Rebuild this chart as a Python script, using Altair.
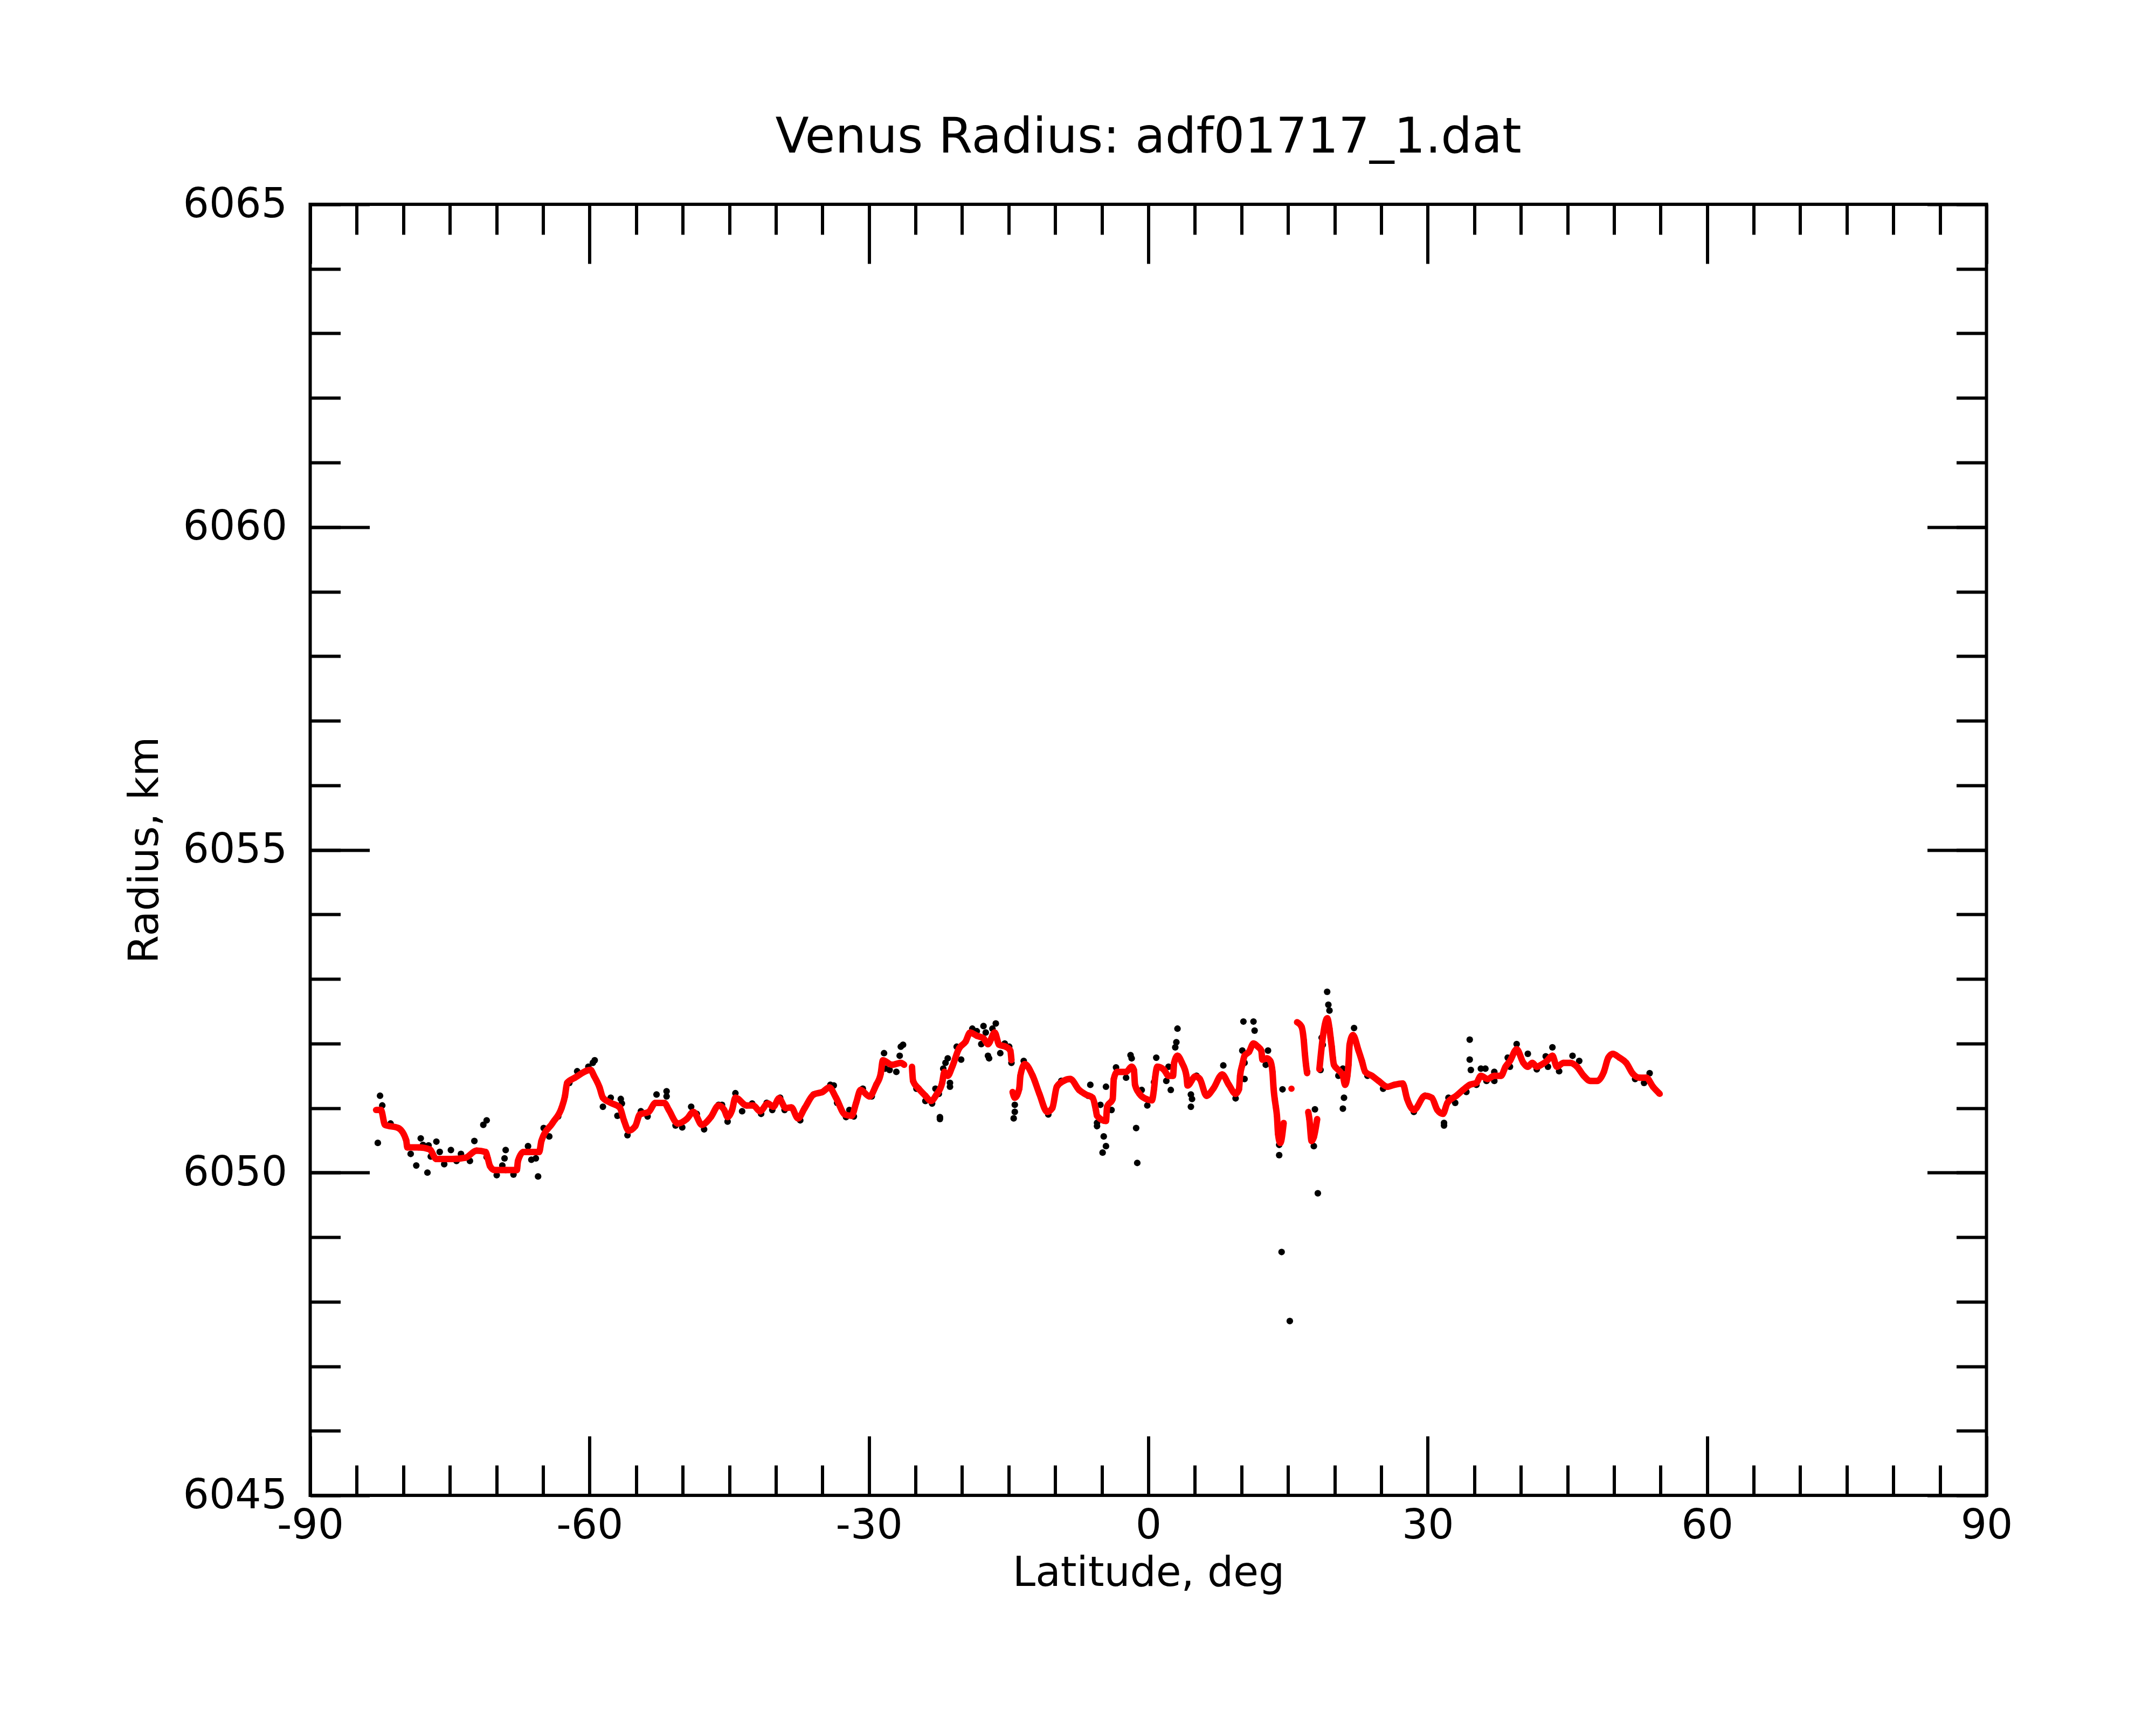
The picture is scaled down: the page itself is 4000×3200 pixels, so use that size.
import altair as alt
import pandas as pd

# ---------------- data ----------------
# smoothed (red) profile: latitude, radius; segments separated by gaps
red_lat = [
    -82.93, -82.40, -81.97, -80.53, -79.69, -79.57, -78.37, -77.17, -76.45, -74.77,
    -73.33, -72.13, -71.17, -70.93, -70.69, -70.21, -69.00, -67.81, -67.69, -67.09,
    -65.41, -65.17, -63.97, -63.01, -62.65, -62.41, -61.57, -59.89, -59.53, -58.93,
    -58.57, -57.73, -56.77, -56.29, -55.81, -55.09, -54.61, -53.65, -52.93, -51.97,
    -51.49, -50.53, -49.57, -48.85, -47.94, -46.98, -46.14, -45.54, -45.18, -44.70,
    -44.34, -43.14, -42.42, -41.70, -40.86, -40.26, -39.66, -38.94, -38.34, -37.62,
    -36.90, -35.94, -34.98, -34.26, -33.54, -32.58, -31.86, -31.38, -30.90, -29.94,
    -29.22, -28.74, -28.50, -27.54, -26.58, -26.22,
    -25.38, -25.26, -24.66, -23.94, -23.34, -22.74, -22.14, -21.90, -21.54, -21.06,
    -20.34, -19.62, -19.14, -18.42, -17.70, -17.22, -16.50, -16.02, -15.30, -14.82,
    -14.70,
    -14.58, -14.34, -13.86, -13.74, -13.26, -12.42, -11.70, -10.86, -10.31, -9.83,
    -9.11, -8.39, -7.43, -6.71, -5.99, -5.63, -5.51, -4.55, -4.43, -3.83,
    -3.71, -3.35, -2.39, -1.79, -1.55, -1.43, -0.95, -0.23, 0.37, 0.61,
    0.73, 0.97, 1.69, 2.17, 2.65, 2.77, 3.13, 3.61, 4.09, 4.21,
    5.05, 5.53, 6.25, 6.97, 7.93, 8.65, 9.37, 9.73, 9.85, 10.09,
    10.33, 10.81, 11.29, 11.77, 12.13, 12.25, 12.73, 13.09, 13.33, 13.45,
    13.57, 13.69, 13.81, 13.93, 14.17, 14.53,
    15.37,
    15.97, 16.45, 16.69, 16.81, 16.93, 17.05,
    17.17, 17.29, 17.53, 17.77, 18.13,
    18.37, 18.73, 19.21, 19.45, 19.57, 19.69, 19.81, 19.93, 20.41, 20.89,
    21.13, 21.37, 21.49, 21.61, 21.97, 22.57, 22.93, 23.29, 24.01, 24.73,
    25.69, 26.41, 27.31, 27.79, 28.51, 29.71, 30.43, 31.03, 31.63, 32.11,
    33.07, 33.79, 34.51, 35.23, 35.71, 36.43, 37.15, 37.87, 38.35, 38.83,
    39.55, 40.27, 40.75, 41.23, 41.71, 42.19, 42.79, 43.39, 43.87, 44.59,
    45.31, 46.03, 46.75, 47.47, 48.19, 48.91, 49.39, 49.87, 50.59, 51.31,
    52.03, 52.75, 53.47, 54.19, 54.91,
]
red_r = [
    6050.97, 6050.97, 6050.74, 6050.69, 6050.50, 6050.39, 6050.39, 6050.36, 6050.21, 6050.21,
    6050.23, 6050.34, 6050.32, 6050.22, 6050.10, 6050.04, 6050.04, 6050.04, 6050.18, 6050.32,
    6050.32, 6050.49, 6050.77, 6051.00, 6051.18, 6051.39, 6051.47, 6051.59, 6051.50, 6051.32,
    6051.16, 6051.08, 6051.01, 6050.80, 6050.65, 6050.72, 6050.90, 6050.94, 6051.08, 6051.08,
    6050.97, 6050.76, 6050.83, 6050.94, 6050.74, 6050.86, 6051.04, 6050.97, 6050.86, 6050.97,
    6051.16, 6051.04, 6051.04, 6050.95, 6051.07, 6051.02, 6051.15, 6051.00, 6051.01, 6050.84,
    6051.00, 6051.21, 6051.25, 6051.32, 6051.16, 6050.90, 6050.88, 6051.08, 6051.28, 6051.18,
    6051.36, 6051.53, 6051.74, 6051.67, 6051.70, 6051.67,
    6051.64, 6051.42, 6051.30, 6051.19, 6051.11, 6051.21, 6051.39, 6051.56, 6051.50, 6051.64,
    6051.92, 6052.03, 6052.17, 6052.12, 6052.08, 6051.99, 6052.17, 6051.98, 6051.95, 6051.89,
    6051.74,
    6051.25, 6051.16, 6051.30, 6051.50, 6051.68, 6051.50, 6051.22, 6050.94, 6051.00, 6051.33,
    6051.42, 6051.45, 6051.28, 6051.21, 6051.16, 6050.97, 6050.88, 6050.80, 6051.02, 6051.14,
    6051.45, 6051.56, 6051.56, 6051.64, 6051.59, 6051.36, 6051.22, 6051.14, 6051.12, 6051.30,
    6051.47, 6051.64, 6051.59, 6051.50, 6051.50, 6051.70, 6051.81, 6051.70, 6051.50, 6051.35,
    6051.49, 6051.45, 6051.19, 6051.30, 6051.52, 6051.36, 6051.22, 6051.29, 6051.50, 6051.67,
    6051.81, 6051.87, 6052.00, 6051.95, 6051.89, 6051.75, 6051.77, 6051.73, 6051.56, 6051.30,
    6051.14, 6051.02, 6050.88, 6050.60, 6050.46, 6050.77,
    6051.30,
    6052.33, 6052.26, 6052.05, 6051.84, 6051.67, 6051.54,
    6050.94, 6050.83, 6050.49, 6050.55, 6050.83,
    6051.60, 6052.09, 6052.39, 6052.23, 6052.09, 6051.95, 6051.78, 6051.67, 6051.59, 6051.50,
    6051.36, 6051.50, 6051.67, 6051.98, 6052.13, 6051.89, 6051.73, 6051.56, 6051.50, 6051.42,
    6051.33, 6051.36, 6051.38, 6051.14, 6050.97, 6051.19, 6051.16, 6050.97, 6050.91, 6051.08,
    6051.19, 6051.28, 6051.36, 6051.39, 6051.50, 6051.45, 6051.50, 6051.50, 6051.64, 6051.73,
    6051.91, 6051.70, 6051.64, 6051.70, 6051.64, 6051.67, 6051.73, 6051.81, 6051.64, 6051.70,
    6051.70, 6051.64, 6051.50, 6051.42, 6051.42, 6051.56, 6051.78, 6051.84, 6051.78, 6051.70,
    6051.53, 6051.47, 6051.47, 6051.33, 6051.22,
]
# number of points in each unbroken stretch of the red profile
red_seg_sizes = [76, 21, 66, 1, 6, 5, 65]
red_seg = [i for i, n in enumerate(red_seg_sizes) for _ in range(n)]

# raw (black) measurements that stand out from the smoothed profile
black_lat = [
    -82.74, -82.50, -82.26, -81.37, -79.21, -78.61, -78.13, -77.89, -77.41, -77.29,
    -77.05, -76.45, -76.09, -75.61, -74.89, -74.29, -73.81, -72.85, -72.37, -71.41,
    -71.05, -71.05, -69.97, -69.37, -69.13, -69.01, -68.17, -66.61, -66.25, -65.77,
    -65.53, -64.93, -64.33, -63.37, -62.17, -61.33, -60.13, -59.65, -59.45, -58.57,
    -57.73, -57.01, -56.65, -56.53, -55.93, -54.49, -53.77, -52.81, -51.73, -51.73,
    -50.77, -50.05, -49.09, -48.49,
    -47.70, -46.14, -45.78, -45.18, -44.34, -43.62, -42.54, -41.58, -40.98, -40.38,
    -39.54, -39.06, -37.38, -35.94, -34.14, -33.78, -33.42, -32.46, -32.10, -31.62,
    -30.66, -29.70, -28.38, -28.26, -27.78, -27.06, -26.70, -26.58, -26.34, -24.90,
    -23.94, -23.22, -22.86, -22.50, -22.38, -22.38, -22.02, -21.78, -21.54, -21.30,
    -21.30, -20.58, -20.10, -18.90, -18.42, -17.94, -17.70, -17.46, -17.22, -17.10,
    -16.74, -16.38, -15.90, -15.42, -14.94, -14.70, -14.34, -14.34, -14.46, -13.38,
    -10.74,
    -9.35, -6.23, -6.47, -5.51, -5.51, -5.15, -4.79, -4.55, -4.91, -4.55,
    -3.95, -3.47, -2.39, -1.91, -1.79, -1.31, -1.19, -0.71, -0.11, 0.61,
    0.85, 1.93, 2.17, 2.41, 2.89, 3.01, 3.13, 4.57, 4.57, 4.69,
    5.17, 8.05, 9.37, 10.09, 10.21, 10.33, 10.33, 11.29, 11.41, 12.85,
    12.61, 14.05, 14.05, 14.41, 17.89, 17.77, 18.20, 17.05, 18.49, 18.61,
    18.73, 19.33, 19.45, 19.20, 20.41, 20.89, 21.01, 20.89, 22.09, 23.53,
    25.21, 14.31, 15.19,
    28.51, 29.71, 31.75, 31.75, 32.23, 32.95, 34.15, 34.51, 34.51, 34.63,
    35.23, 35.71, 36.19, 36.31, 37.15, 37.15, 38.59, 38.83, 39.55, 40.75,
    41.71, 42.67, 42.91, 43.39, 44.11, 45.55, 46.27, 52.27, 53.23, 53.83,
]
black_r = [
    6050.46, 6051.19, 6051.04, 6050.76, 6050.29, 6050.11, 6050.53, 6050.43, 6050.00, 6050.42,
    6050.25, 6050.48, 6050.32, 6050.13, 6050.35, 6050.18, 6050.29, 6050.18, 6050.49, 6050.74,
    6050.81, 6050.24, 6049.96, 6050.11, 6050.22, 6050.35, 6049.97, 6050.41, 6050.20, 6050.22,
    6049.94, 6050.69, 6050.56, 6050.87, 6051.39, 6051.57, 6051.64, 6051.70, 6051.74, 6051.02,
    6051.16, 6050.88, 6051.14, 6051.07, 6050.58, 6050.95, 6050.87, 6051.21, 6051.26, 6051.18,
    6050.73, 6050.70, 6051.02, 6050.91,
    6050.67, 6051.05, 6051.05, 6050.79, 6051.23, 6050.95, 6051.07, 6050.91, 6051.08, 6050.97,
    6051.16, 6050.97, 6050.81, 6051.21, 6051.36, 6051.35, 6051.08, 6050.86, 6050.97, 6050.87,
    6051.30, 6051.18, 6051.85, 6051.61, 6051.59, 6051.56, 6051.81, 6051.95, 6051.98, 6051.30,
    6051.11, 6051.07, 6051.30, 6051.22, 6050.86, 6050.83, 6051.61, 6051.70, 6051.77, 6051.39,
    6051.33, 6051.95, 6051.75, 6052.23, 6052.19, 6051.99, 6052.27, 6052.17, 6051.81, 6051.77,
    6052.23, 6052.31, 6051.85, 6052.00, 6051.95, 6051.70, 6051.05, 6050.94, 6050.84, 6051.73,
    6050.90,
    6051.42, 6051.36, 6051.19, 6050.77, 6050.72, 6051.05, 6050.56, 6050.41, 6050.31, 6051.33,
    6050.97, 6051.63, 6051.47, 6051.82, 6051.77, 6050.69, 6050.15, 6051.28, 6051.04, 6051.40,
    6051.78, 6051.42, 6051.64, 6051.28, 6051.94, 6052.02, 6052.23, 6051.21, 6051.02, 6051.14,
    6051.50, 6051.66, 6051.15, 6051.89, 6052.34, 6051.70, 6051.45, 6052.34, 6052.20, 6051.89,
    6051.67, 6050.43, 6050.27, 6051.29, 6050.98, 6050.41, 6049.68, 6051.56, 6051.59, 6052.09,
    6051.98, 6052.60, 6052.51, 6052.80, 6051.50, 6051.61, 6051.16, 6050.99, 6052.24, 6051.50,
    6051.30, 6048.77, 6047.70,
    6050.94, 6051.19, 6050.77, 6050.73, 6051.16, 6051.08, 6051.25, 6052.06, 6051.75, 6051.59,
    6051.36, 6051.61, 6051.61, 6051.42, 6051.56, 6051.42, 6051.78, 6051.64, 6051.99, 6051.84,
    6051.60, 6051.80, 6051.64, 6051.94, 6051.57, 6051.81, 6051.73, 6051.45, 6051.39, 6051.54,
]

title_text = "Venus Radius: adf01717_1.dat"
x_title = "Latitude, deg"
y_title = "Radius, km"
x_major = [-90, -60, -30, 0, 30, 60, 90]
x_minor = [-90, -85, -80, -75, -70, -65, -60, -55, -50, -45, -40, -35, -30, -25, -20,
           -15, -10, -5, 0, 5, 10, 15, 20, 25, 30, 35, 40, 45, 50, 55, 60, 65, 70,
           75, 80, 85, 90]
y_major = [6045, 6050, 6055, 6060, 6065]
y_minor = [6045, 6046, 6047, 6048, 6049, 6050, 6051, 6052, 6053, 6054, 6055, 6056,
           6057, 6058, 6059, 6060, 6061, 6062, 6063, 6064, 6065]

# ---------------- chart ----------------
red_df = pd.DataFrame({"lat": red_lat, "r": red_r, "seg": red_seg})
black_df = pd.DataFrame({"lat": black_lat, "r": black_r})

W, H = 3110, 2395
FONT = "DejaVu Sans"
MAJ, MIN = 110, 56

xs = alt.Scale(domain=[-90, 90], nice=False, zero=False)
ys = alt.Scale(domain=[6045, 6065], nice=False, zero=False)


def tick_axis(orient, values, size, offset):
    return alt.Axis(orient=orient, values=values, tickSize=size, offset=offset,
                    ticks=True, tickColor="black", tickWidth=6, labels=False,
                    domain=False, grid=False, title=None)


label_x = alt.Axis(orient="bottom", values=x_major, labelExpr="'' + datum.value",
                   labelFont=FONT, labelFontSize=76, labelColor="black",
                   labelPadding=19, labelFlush=False, labelOverlap=False,
                   labelLimit=1000,
                   ticks=False, tickSize=0, domain=False, grid=False,
                   title=x_title, titleFont=FONT, titleFontSize=76,
                   titleFontWeight="normal", titleColor="black",
                   titleX=W / 2, titleY=167, titleBaseline="alphabetic",
                   titleAlign="center")
label_y = alt.Axis(orient="left", values=y_major, labelExpr="'' + datum.value",
                   labelFont=FONT, labelFontSize=76, labelColor="black",
                   labelPadding=43, labelFlush=False, labelOverlap=False,
                   labelBaseline="middle", labelLimit=1000,
                   ticks=False, tickSize=0, domain=False, grid=False,
                   title=y_title, titleFont=FONT, titleFontSize=76,
                   titleFontWeight="normal", titleColor="black",
                   titleX=-283, titleY=H / 2, titleAngle=270,
                   titleBaseline="alphabetic", titleAlign="center")

black_layer = alt.Chart(black_df).mark_circle(size=150, color="black", opacity=1).encode(
    x=alt.X("lat:Q", scale=xs, axis=label_x),
    y=alt.Y("r:Q", scale=ys, axis=label_y),
)

red_line = alt.Chart(red_df).mark_line(
    color="#ff0000", strokeWidth=12, interpolate="monotone"
).encode(
    x=alt.X("lat:Q", scale=xs, axis=tick_axis("top", x_major, MAJ, -H)),
    y=alt.Y("r:Q", scale=ys, axis=tick_axis("right", y_major, MAJ, -W)),
    detail="seg:N",
)

red_pts = alt.Chart(red_df).mark_circle(size=140, color="#ff0000", opacity=1).encode(
    x=alt.X("lat:Q", scale=xs, axis=tick_axis("top", x_minor, MIN, -H)),
    y=alt.Y("r:Q", scale=ys, axis=tick_axis("right", y_minor, MIN, -W)),
)

ghost_major = alt.Chart(black_df).mark_circle(size=1, opacity=0).encode(
    x=alt.X("lat:Q", scale=xs, axis=tick_axis("bottom", x_major, MAJ, -H)),
    y=alt.Y("r:Q", scale=ys, axis=tick_axis("left", y_major, MAJ, -W)),
)

ghost_minor = alt.Chart(black_df).mark_circle(size=1, opacity=0).encode(
    x=alt.X("lat:Q", scale=xs, axis=tick_axis("bottom", x_minor, MIN, -H)),
    y=alt.Y("r:Q", scale=ys, axis=tick_axis("left", y_minor, MIN, -W)),
)

chart = alt.layer(
    ghost_major, ghost_minor, black_layer, red_line, red_pts
).resolve_axis(
    x="independent", y="independent"
).properties(
    width=W, height=H,
    background="white",
    title=alt.TitleParams(title_text, font=FONT, fontSize=91, fontWeight="normal",
                          color="black", anchor="middle", frame="group",
                          baseline="alphabetic", offset=-33),
    autosize=alt.AutoSizeParams(type="none"),
    padding={"left": 567.5, "top": 371, "right": 306, "bottom": 418},
).configure_view(
    stroke="black", strokeWidth=6, fill="white"
)

chart.save("out.html", embed_options={"renderer": "svg", "actions": False})
